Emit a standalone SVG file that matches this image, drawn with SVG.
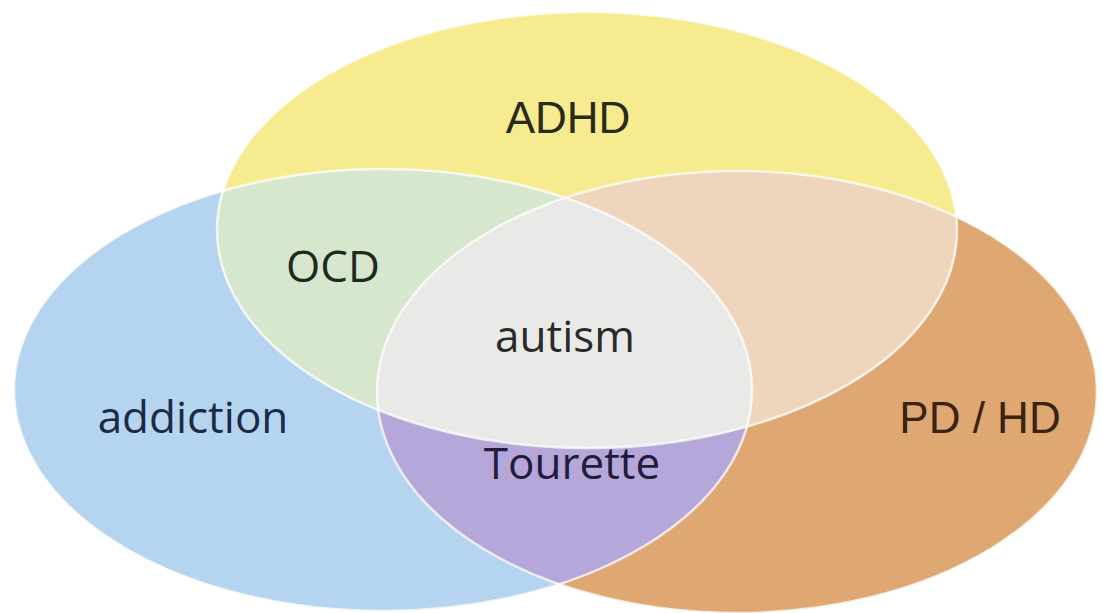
<svg xmlns="http://www.w3.org/2000/svg" xmlns:xlink="http://www.w3.org/1999/xlink" width="1103" height="613" viewBox="0 0 1103 613">
<style>
.lbl{font-family:"Open Sans","Noto Sans","DejaVu Sans",sans-serif;font-size:44px;text-anchor:middle}
.arl{font-family:"Liberation Sans",Arial,sans-serif;font-size:44px;text-anchor:middle}
.edge{fill:none;stroke:#ffffff;stroke-width:2.5;stroke-opacity:0.75}
</style>
<defs>
<ellipse id="eB" cx="383" cy="390" rx="369" ry="221"/>
<ellipse id="eY" cx="587" cy="230" rx="370" ry="218"/>
<ellipse id="eO" cx="737" cy="392" rx="360" ry="221"/>
<clipPath id="cB"><use href="#eB" xlink:href="#eB"/></clipPath>
<clipPath id="cY"><use href="#eY" xlink:href="#eY"/></clipPath>
<clipPath id="cO"><use href="#eO" xlink:href="#eO"/></clipPath>
<mask id="mNotY" maskUnits="userSpaceOnUse" x="0" y="0" width="1103" height="613">
<rect x="0" y="0" width="1103" height="613" fill="#ffffff"/>
<use href="#eY" xlink:href="#eY" fill="#000000"/>
</mask>
</defs>
<rect x="0" y="0" width="1103" height="613" fill="#ffffff"/>
<g id="addiction">
<use href="#eB" xlink:href="#eB" fill="#B4D4F0"/>
<text class="lbl" x="193" y="433" fill="#1c2a44">addiction</text>
</g>
<g id="pd-hd">
<use href="#eO" xlink:href="#eO" fill="#DFA873"/>
<text class="arl" x="980" y="433" fill="#3a230f">PD / HD</text>
</g>
<g id="adhd">
<use href="#eY" xlink:href="#eY" fill="#F7EB8F"/>
<text class="arl" x="568" y="133" fill="#2a2a1a">ADHD</text>
</g>
<g id="ocd">
<use href="#eY" xlink:href="#eY" fill="#D6E7CE" clip-path="url(#cB)"/>
<text class="lbl" x="333" y="282" fill="#1e2a1e">OCD</text>
</g>
<g id="adhd-pdhd">
<use href="#eY" xlink:href="#eY" fill="#EED5BB" clip-path="url(#cO)"/>
</g>
<g id="autism">
<g clip-path="url(#cB)"><use href="#eY" xlink:href="#eY" fill="#E9E9E8" clip-path="url(#cO)"/></g>
<text class="lbl" x="565" y="352" fill="#2a2a2a">autism</text>
</g>
<g id="tourette">
<g clip-path="url(#cB)"><use href="#eO" xlink:href="#eO" fill="#B5A7DA" mask="url(#mNotY)"/></g>
<text class="lbl" x="572" y="479" fill="#221d3a">Tourette</text>
</g>
<g id="outlines">
<use href="#eB" xlink:href="#eB" class="edge"/>
<use href="#eY" xlink:href="#eY" class="edge"/>
<use href="#eO" xlink:href="#eO" class="edge"/>
</g>
</svg>
